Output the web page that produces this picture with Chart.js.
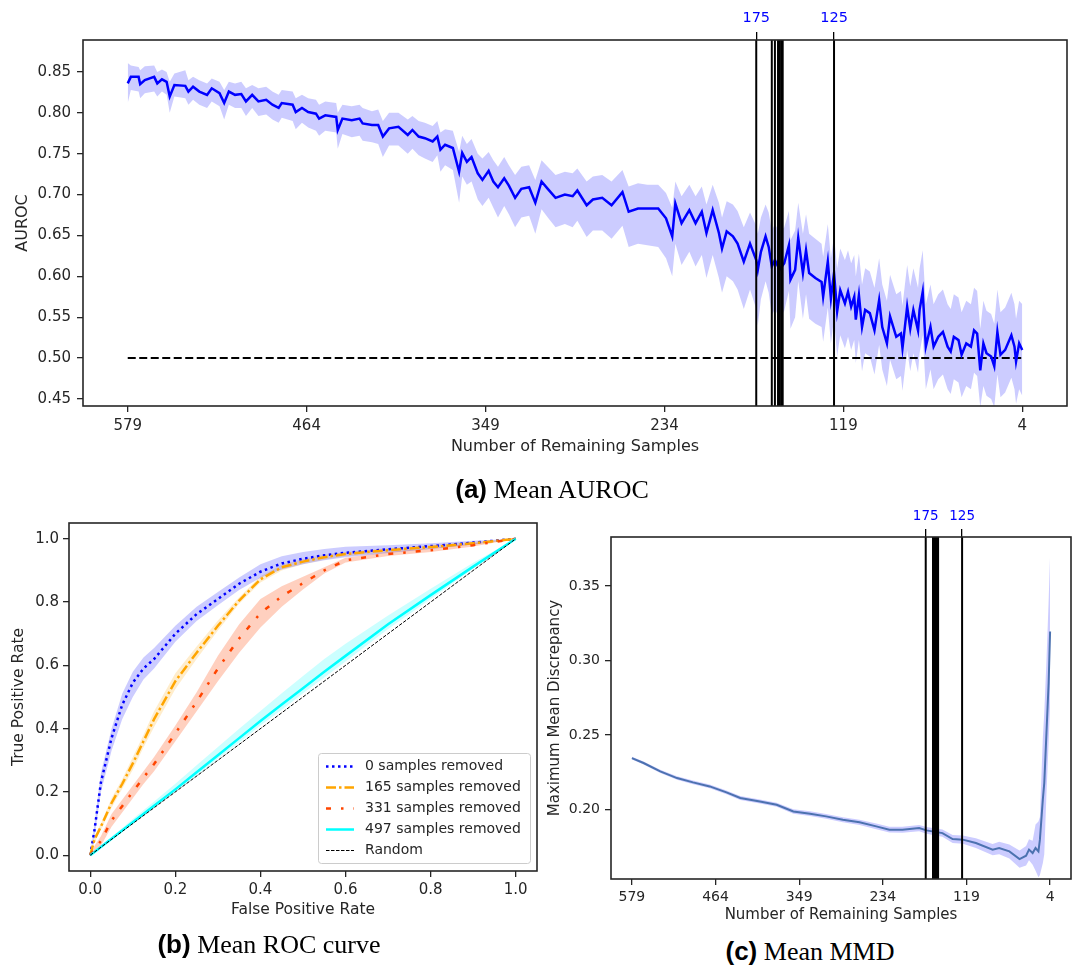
<!DOCTYPE html>
<html>
<head>
<meta charset="utf-8">
<script src="https://cdn.jsdelivr.net/npm/chart.js@4.4.1/dist/chart.umd.min.js"></script>
<style>
  body { margin: 0; background: #fff; width: 1072px; height: 966px; position: relative; overflow: hidden; }
  canvas { position: absolute; }
  .cap { position: absolute; transform: translate(-50%, -50%); white-space: nowrap; font-family: "Liberation Serif", serif; font-size: 26px; color: #000; }
  .cap b { font-family: "Liberation Sans", Arial, sans-serif; font-weight: bold; }
</style>
</head>
<body>
<canvas id="chartAuroc" width="1072" height="462" style="left:0;top:0"></canvas>
<canvas id="chartRoc" width="545" height="430" style="left:0;top:500px"></canvas>
<canvas id="chartMmd" width="532" height="430" style="left:540px;top:495px"></canvas>
<div class="cap" style="left:552px;top:489px"><b>(a)</b> Mean AUROC</div>
<div class="cap" style="left:269px;top:944px"><b>(b)</b> Mean ROC curve</div>
<div class="cap" style="left:810px;top:951px"><b>(c)</b> Mean MMD</div>
<script>
// ---- data (a): mean AUROC vs remaining samples ----
const aurocRemaining = [
  579,577,572,571,568,562,560,557,554,552, 549,542,540,537,533,528,525,520,517,514,
  510,506,503,499,495,490,486,482,480,473, 471,467,463,458,456,452,445,444,441,435,
  430,428,422,418,415,411,405,399,396,392, 388,383,380,378,375,370,366,364,361,358,
  354,351,347,344,341,337,334,330,326,321, 317,313,309,304,298,293,290,284,280,274,
  268,261,257,251,245,238,233,229,227,223, 218,214,210,207,203,199,197,194,190,187,
  183,179,175,174,172,169,167,165,163,160, 157,154,153,150,148,145,143,141,137,133,
  132,129,127,125,123,121,118,116,114,112, 111,109,107,105,102,99,96,94,91,89,
  85,82,81,78,76,74,71,70,68,66, 63,61,58,55,52,50,48,45,43,40,
  37,35,33,31,29,27,24,22,20,18, 15,11,9,8,6,4
];
const aurocMean = [
  0.836,0.844,0.844,0.835,0.840,0.844,0.836,0.841,0.838,0.820, 0.834,0.833,0.826,0.832,0.826,0.822,0.830,0.824,0.812,0.826,
  0.822,0.823,0.814,0.822,0.814,0.816,0.810,0.806,0.812,0.810, 0.801,0.806,0.801,0.799,0.793,0.797,0.795,0.779,0.793,0.791,
  0.793,0.787,0.785,0.785,0.771,0.781,0.783,0.773,0.779,0.771, 0.769,0.765,0.771,0.755,0.761,0.757,0.728,0.751,0.740,0.746,
  0.726,0.718,0.729,0.716,0.709,0.720,0.711,0.696,0.707,0.709, 0.690,0.716,0.707,0.696,0.700,0.698,0.705,0.687,0.694,0.696,
  0.687,0.703,0.679,0.683,0.683,0.683,0.671,0.649,0.689,0.665, 0.681,0.665,0.679,0.653,0.681,0.653,0.634,0.655,0.649,0.640,
  0.618,0.640,0.620,0.608,0.630,0.649,0.636,0.612,0.620,0.608, 0.616,0.638,0.596,0.608,0.647,0.604,0.632,0.604,0.598,0.593,
  0.575,0.618,0.573,0.604,0.557,0.583,0.567,0.581,0.563,0.575, 0.547,0.577,0.538,0.559,0.555,0.534,0.571,0.538,0.518,0.551,
  0.526,0.530,0.512,0.563,0.536,0.559,0.534,0.559,0.581,0.514, 0.538,0.514,0.526,0.532,0.514,0.508,0.526,0.522,0.504,0.518,
  0.514,0.534,0.530,0.485,0.518,0.506,0.502,0.490,0.532,0.504, 0.510,0.528,0.514,0.496,0.518,0.510
];
const aurocLow = [
  0.812,0.828,0.826,0.818,0.824,0.826,0.820,0.826,0.822,0.800, 0.820,0.818,0.810,0.816,0.810,0.806,0.814,0.808,0.792,0.810,
  0.806,0.806,0.796,0.806,0.796,0.798,0.792,0.788,0.794,0.790, 0.780,0.788,0.782,0.778,0.772,0.778,0.776,0.756,0.774,0.770,
  0.772,0.766,0.764,0.762,0.746,0.760,0.760,0.750,0.756,0.748, 0.744,0.740,0.748,0.728,0.736,0.730,0.690,0.722,0.712,0.716,
  0.694,0.686,0.696,0.684,0.672,0.686,0.676,0.660,0.672,0.674, 0.652,0.682,0.672,0.660,0.664,0.660,0.668,0.648,0.656,0.656,
  0.646,0.662,0.636,0.640,0.638,0.636,0.622,0.600,0.640,0.614, 0.630,0.612,0.626,0.598,0.626,0.598,0.580,0.600,0.594,0.584,
  0.560,0.584,0.560,0.540,0.572,0.594,0.580,0.552,0.560,0.548, 0.558,0.582,0.536,0.550,0.594,0.548,0.578,0.548,0.542,0.538,
  0.520,0.562,0.518,0.548,0.502,0.528,0.512,0.526,0.510,0.522, 0.494,0.522,0.484,0.506,0.502,0.480,0.516,0.486,0.466,0.498,
  0.474,0.478,0.460,0.510,0.484,0.506,0.482,0.506,0.528,0.462, 0.486,0.462,0.474,0.480,0.462,0.456,0.474,0.470,0.452,0.466,
  0.462,0.482,0.478,0.440,0.466,0.454,0.450,0.440,0.480,0.452, 0.458,0.476,0.462,0.444,0.462,0.454
];
const aurocHigh = [
  0.861,0.858,0.856,0.852,0.857,0.858,0.850,0.853,0.850,0.838, 0.848,0.852,0.840,0.844,0.840,0.836,0.842,0.838,0.828,0.838,
  0.836,0.838,0.830,0.834,0.830,0.832,0.826,0.822,0.828,0.826, 0.818,0.822,0.818,0.816,0.810,0.814,0.812,0.800,0.810,0.808,
  0.810,0.806,0.802,0.804,0.790,0.800,0.800,0.792,0.796,0.790, 0.788,0.784,0.790,0.776,0.780,0.778,0.752,0.772,0.762,0.768,
  0.750,0.744,0.752,0.742,0.734,0.746,0.736,0.724,0.734,0.736, 0.718,0.742,0.734,0.724,0.728,0.726,0.732,0.716,0.722,0.724,
  0.716,0.730,0.710,0.714,0.712,0.712,0.702,0.684,0.716,0.698, 0.712,0.698,0.710,0.688,0.712,0.690,0.672,0.692,0.688,0.680,
  0.660,0.678,0.662,0.652,0.672,0.688,0.678,0.656,0.664,0.654, 0.660,0.680,0.644,0.656,0.690,0.652,0.676,0.652,0.646,0.640,
  0.624,0.664,0.622,0.650,0.610,0.634,0.620,0.632,0.616,0.626, 0.600,0.628,0.590,0.610,0.606,0.586,0.622,0.590,0.570,0.602,
  0.578,0.582,0.564,0.614,0.588,0.610,0.586,0.610,0.632,0.566, 0.590,0.566,0.578,0.584,0.566,0.560,0.578,0.574,0.556,0.570,
  0.566,0.586,0.582,0.536,0.570,0.558,0.554,0.542,0.584,0.556, 0.562,0.580,0.566,0.548,0.570,0.566
];
const randomAuroc = 0.5;
const sampleTicks = [579, 464, 349, 234, 119, 4];
const aurocTicks = [0.45, 0.50, 0.55, 0.60, 0.65, 0.70, 0.75, 0.80, 0.85];
// removal steps marked by vertical lines, two of them labelled on top
const markedRemaining = [175, 165, 163, 161, 160, 159, 158, 125];
const topLabels = [175, 125];

// ---- data (b): mean ROC curves ----
const fprGrid = [0, 0.01, 0.025, 0.05, 0.075, 0.1, 0.125, 0.15, 0.2, 0.25, 0.3, 0.35, 0.4, 0.45, 0.5, 0.55, 0.6, 0.7, 0.8, 0.9, 1];
const rocNames = ['0 samples removed', '165 samples removed', '331 samples removed', '497 samples removed'];
const tpr0 =     [0, 0.08, 0.23, 0.37, 0.475, 0.545, 0.59, 0.62, 0.70, 0.762, 0.81, 0.858, 0.896, 0.922, 0.937, 0.948, 0.956, 0.967, 0.977, 0.988, 1];
const tpr0Low =  [0, 0.06, 0.20, 0.33, 0.43, 0.50, 0.555, 0.59, 0.675, 0.74, 0.79, 0.838, 0.877, 0.903, 0.92, 0.932, 0.942, 0.955, 0.968, 0.982, 1];
const tpr0High = [0, 0.10, 0.26, 0.40, 0.51, 0.58, 0.625, 0.655, 0.725, 0.785, 0.832, 0.878, 0.92, 0.945, 0.958, 0.968, 0.975, 0.98, 0.986, 0.994, 1];
const tpr165 =     [0, 0.05, 0.09, 0.165, 0.225, 0.29, 0.36, 0.43, 0.55, 0.64, 0.725, 0.805, 0.872, 0.91, 0.928, 0.942, 0.952, 0.964, 0.974, 0.986, 1];
const tpr165Low =  [0, 0.04, 0.08, 0.15, 0.21, 0.27, 0.34, 0.405, 0.525, 0.62, 0.71, 0.795, 0.862, 0.9, 0.92, 0.934, 0.945, 0.957, 0.968, 0.981, 1];
const tpr165High = [0, 0.06, 0.10, 0.18, 0.24, 0.31, 0.38, 0.455, 0.575, 0.66, 0.742, 0.815, 0.882, 0.918, 0.936, 0.95, 0.958, 0.97, 0.98, 0.99, 1];
const tpr331 =     [0, 0.02, 0.045, 0.11, 0.155, 0.2, 0.245, 0.288, 0.385, 0.485, 0.59, 0.685, 0.765, 0.818, 0.86, 0.9, 0.932, 0.952, 0.964, 0.98, 1];
const tpr331Low =  [0, 0.01, 0.03, 0.09, 0.135, 0.18, 0.225, 0.265, 0.36, 0.455, 0.55, 0.64, 0.72, 0.785, 0.84, 0.89, 0.925, 0.946, 0.958, 0.976, 1];
const tpr331High = [0, 0.03, 0.06, 0.13, 0.175, 0.22, 0.265, 0.31, 0.41, 0.515, 0.63, 0.73, 0.81, 0.85, 0.88, 0.91, 0.94, 0.958, 0.97, 0.985, 1];
const tpr497 =     [0, 0.01, 0.026, 0.052, 0.078, 0.104, 0.13, 0.156, 0.208, 0.262, 0.316, 0.37, 0.424, 0.476, 0.528, 0.58, 0.63, 0.73, 0.822, 0.912, 1];
const tpr497Low =  [0, 0.01, 0.025, 0.05, 0.075, 0.1, 0.125, 0.15, 0.2, 0.252, 0.305, 0.356, 0.41, 0.46, 0.512, 0.562, 0.612, 0.715, 0.81, 0.905, 1];
const tpr497High = [0, 0.012, 0.03, 0.058, 0.086, 0.114, 0.142, 0.17, 0.226, 0.284, 0.342, 0.4, 0.456, 0.512, 0.566, 0.62, 0.668, 0.758, 0.842, 0.924, 1];
const rateTicks = [0, 0.2, 0.4, 0.6, 0.8, 1.0];

// ---- data (c): mean MMD ----
const mmdRemaining = [579,563,540,517,495,472,449,430,403,380,357,334,312,289,266,243,225,207,184,174,152,138,124,106,83,74,60,46,37,33,28,24,20,18,14,12,9,6,4];
const mmdMean = [0.2345,0.2312,0.2256,0.2211,0.2182,0.2155,0.2115,0.2077,0.2054,0.2032,0.1987,0.1972,0.1954,0.1932,0.1914,0.1887,0.1865,0.1865,0.1876,0.1860,
  0.1842,0.1802,0.1798,0.1775,0.1731,0.1742,0.1719,0.1668,0.1690,0.1731,0.1708,0.1742,0.1719,0.1798,0.2066,0.2178,0.2513,0.2848,0.3194];
const mmdLow = [0.2335,0.2302,0.2245,0.2199,0.2170,0.2142,0.2102,0.2064,0.2040,0.2018,0.1972,0.1956,0.1938,0.1915,0.1896,0.1868,0.1846,0.1845,0.1855,0.1838,
  0.1818,0.1775,0.1770,0.1742,0.1693,0.1700,0.1672,0.1610,0.1625,0.1660,0.1630,0.1590,0.1545,0.1560,0.1640,0.1700,0.2100,0.2450,0.2700];
const mmdHigh = [0.2355,0.2322,0.2267,0.2223,0.2194,0.2168,0.2128,0.2090,0.2068,0.2046,0.2002,0.1988,0.1970,0.1949,0.1932,0.1906,0.1884,0.1885,0.1897,0.1882,
  0.1866,0.1829,0.1826,0.1808,0.1769,0.1784,0.1766,0.1726,0.1755,0.1800,0.1790,0.1900,0.1920,0.1950,0.2480,0.2650,0.3000,0.3400,0.3710];
const mmdTicks = [0.20, 0.25, 0.30, 0.35];

// ---- helpers ----
Chart.defaults.font.family = '"DejaVu Sans", sans-serif';
Chart.defaults.color = '#262626';
Chart.defaults.animation = false;

const ink = '#262626';
const pts = (xs, ys) => xs.map((x, i) => ({ x, y: ys[i] }));

// frame around the plot area (matplotlib style box)
const frame = {
  id: 'frame',
  afterDatasetsDraw(chart) {
    const a = chart.chartArea, ctx = chart.ctx;
    ctx.save();
    ctx.strokeStyle = ink;
    ctx.lineWidth = 1.6;
    ctx.strokeRect(a.left, a.top, a.right - a.left, a.bottom - a.top);
    ctx.restore();
  }
};

function tickGrid(len) {
  return { drawOnChartArea: false, drawTicks: true, tickLength: len, color: ink, lineWidth: 1.3 };
}

// vertical marker lines, spanning the whole y range
function markerSets(yMin, yMax) {
  return markedRemaining.map(v => ({
    data: [{ x: v, y: yMin }, { x: v, y: yMax }],
    borderColor: '#000', borderWidth: 2, order: -1
  }));
}

function sampleAxis(h, tickSize, pad, titleSize, titlePad) {
  return {
    type: 'linear', reverse: true, min: -24.75, max: 607.75,
    afterBuildTicks: s => { s.ticks = sampleTicks.map(v => ({ value: v })); },
    afterFit: s => { s.height = h; },
    ticks: { callback: v => String(v), font: { size: tickSize }, padding: pad, maxRotation: 0, autoSkip: false },
    grid: tickGrid(6),
    border: { display: false },
    title: { display: true, text: 'Number of Remaining Samples', font: { size: titleSize }, padding: { top: 0, bottom: titlePad } }
  };
}

function topAxis(h, size, pad) {
  return {
    type: 'linear', position: 'top', reverse: true, min: -24.75, max: 607.75,
    afterBuildTicks: s => { s.ticks = topLabels.map(v => ({ value: v })); },
    afterFit: s => { s.height = h; },
    ticks: { callback: v => String(v), color: '#0000ff', font: { size: size }, padding: pad, maxRotation: 0, autoSkip: false },
    grid: { drawOnChartArea: false, drawTicks: true, tickLength: 8, color: '#000', lineWidth: 1.3 },
    border: { display: false }
  };
}

// ---- (a) Mean AUROC ----
const aMin = 0.4414, aMax = 0.8891;
new Chart(document.getElementById('chartAuroc'), {
  type: 'line',
  data: {
    datasets: [
      { data: pts(aurocRemaining, aurocLow), borderColor: 'transparent', borderWidth: 0, order: 2 },
      { data: pts(aurocRemaining, aurocHigh), borderColor: 'transparent', borderWidth: 0, fill: 0,
        backgroundColor: 'rgba(0,0,255,0.2)', order: 2 },
      { data: pts(aurocRemaining, aurocMean), borderColor: '#0000ff', borderWidth: 2.5, order: 0 },
      { data: [{ x: 579, y: randomAuroc }, { x: 4, y: randomAuroc }], borderColor: '#000', borderWidth: 2,
        borderDash: [8, 3.5], order: 1 },
      ...markerSets(aMin, aMax)
    ]
  },
  options: {
    responsive: false,
    elements: { point: { radius: 0 }, line: { tension: 0 } },
    layout: { padding: { left: 0, right: 5, top: 0, bottom: 0 }, autoPadding: false },
    plugins: { legend: { display: false }, tooltip: { enabled: false } },
    scales: {
      x: sampleAxis(56, 15, 5, 16, 6),
      x2: topAxis(40, 14.5, 5),
      y: {
        min: aMin, max: aMax,
        afterBuildTicks: s => { s.ticks = aurocTicks.map(v => ({ value: v })); },
        afterFit: s => { s.width = 83; },
        ticks: { callback: v => v.toFixed(2), font: { size: 15 }, padding: 6, autoSkip: false },
        grid: tickGrid(6),
        border: { display: false },
        title: { display: true, text: 'AUROC', font: { size: 16 }, padding: { top: 13, bottom: 0 } }
      }
    }
  },
  plugins: [frame]
});

// ---- (b) Mean ROC curve ----
const rocStyles = [
  { color: '#0000ff', band: 'rgba(0,0,255,0.2)', width: 2.5, dash: [2.5, 3.5] },
  { color: '#ffa500', band: 'rgba(255,165,0,0.2)', width: 2.5, dash: [10, 3, 2.5, 3] },
  { color: '#ff4500', band: 'rgba(255,69,0,0.25)', width: 2.5, dash: [5, 10, 2.5, 10] },
  { color: '#00ffff', band: 'rgba(0,255,255,0.2)', width: 2.5, dash: [] }
];
const rocMeans = [tpr0, tpr165, tpr331, tpr497];
const rocLows = [tpr0Low, tpr165Low, tpr331Low, tpr497Low];
const rocHighs = [tpr0High, tpr165High, tpr331High, tpr497High];

const rocSets = [];
const legendIdx = [];
rocMeans.forEach((m, i) => {
  const st = rocStyles[i];
  const lowIdx = rocSets.length;
  rocSets.push({ data: pts(fprGrid, rocLows[i]), borderColor: 'transparent', borderWidth: 0, order: 3 });
  rocSets.push({ data: pts(fprGrid, rocHighs[i]), borderColor: 'transparent', borderWidth: 0,
    fill: lowIdx, backgroundColor: st.band, order: 3 });
});
rocMeans.forEach((m, i) => {
  const st = rocStyles[i];
  legendIdx.push(rocSets.length);
  rocSets.push({ label: rocNames[i], data: pts(fprGrid, m), borderColor: st.color, borderWidth: st.width,
    borderDash: st.dash, order: 1 - i * 0.1 });
});
legendIdx.push(rocSets.length);
rocSets.push({ label: 'Random', data: [{ x: 0, y: 0 }, { x: 1, y: 1 }], borderColor: '#000', borderWidth: 1,
  borderDash: [3.5, 1.5], order: 0 });

const rocLegend = {
  id: 'rocLegend',
  afterDraw(chart) {
    const { ctx, chartArea } = chart;
    const w = 212, h = 110;
    const x0 = chartArea.right - 7 - w, y0 = chartArea.bottom - 8 - h;
    ctx.save();
    ctx.fillStyle = 'rgba(255,255,255,0.8)';
    ctx.strokeStyle = '#cccccc';
    ctx.lineWidth = 1;
    ctx.beginPath();
    ctx.roundRect(x0 + 0.5, y0 + 0.5, w, h, 3);
    ctx.fill();
    ctx.stroke();
    legendIdx.forEach((di, i) => {
      const ds = chart.data.datasets[di];
      const y = y0 + 13.5 + i * 21;
      ctx.strokeStyle = ds.borderColor;
      ctx.lineWidth = ds.borderWidth;
      ctx.setLineDash(ds.borderDash || []);
      ctx.beginPath();
      ctx.moveTo(x0 + 8, y);
      ctx.lineTo(x0 + 36, y);
      ctx.stroke();
      ctx.setLineDash([]);
      ctx.fillStyle = ink;
      ctx.font = '14px "DejaVu Sans"';
      ctx.textBaseline = 'middle';
      ctx.fillText(ds.label, x0 + 47, y);
    });
    ctx.restore();
  }
};

new Chart(document.getElementById('chartRoc'), {
  type: 'line',
  data: { datasets: rocSets },
  options: {
    responsive: false,
    elements: { point: { radius: 0 }, line: { tension: 0 } },
    layout: { padding: { left: 0, right: 8, top: 23, bottom: 0 }, autoPadding: false },
    plugins: { legend: { display: false }, tooltip: { enabled: false } },
    scales: {
      x: {
        type: 'linear', min: -0.05, max: 1.05,
        afterBuildTicks: s => { s.ticks = rateTicks.map(v => ({ value: v })); },
        afterFit: s => { s.height = 59; },
        ticks: { callback: v => v.toFixed(1), font: { size: 15 }, padding: 4, maxRotation: 0, autoSkip: false },
        grid: tickGrid(6),
        border: { display: false },
        title: { display: true, text: 'False Positive Rate', font: { size: 15.5 }, padding: { top: 0, bottom: 11 } }
      },
      y: {
        min: -0.05, max: 1.05,
        afterBuildTicks: s => { s.ticks = rateTicks.map(v => ({ value: v })); },
        afterFit: s => { s.width = 69; },
        ticks: { callback: v => v.toFixed(1), font: { size: 15 }, padding: 4, autoSkip: false },
        grid: tickGrid(6),
        border: { display: false },
        title: { display: true, text: 'True Positive Rate', font: { size: 15.5 }, padding: { top: 10, bottom: 0 } }
      }
    }
  },
  plugins: [frame, rocLegend]
});

// ---- (c) Mean MMD ----
const cMin = 0.1534, cMax = 0.3828;
new Chart(document.getElementById('chartMmd'), {
  type: 'line',
  data: {
    datasets: [
      { data: pts(mmdRemaining, mmdLow), borderColor: 'transparent', borderWidth: 0, order: 2 },
      { data: pts(mmdRemaining, mmdHigh), borderColor: 'transparent', borderWidth: 0, fill: 0,
        backgroundColor: 'rgba(0,0,255,0.2)', order: 2 },
      { data: pts(mmdRemaining, mmdMean), borderColor: '#4c72b0', borderWidth: 2, order: 0 },
      ...markerSets(cMin, cMax)
    ]
  },
  options: {
    responsive: false,
    elements: { point: { radius: 0 }, line: { tension: 0 } },
    layout: { padding: { left: 0, right: 1, top: 0, bottom: 0 }, autoPadding: false },
    plugins: { legend: { display: false }, tooltip: { enabled: false } },
    scales: {
      x: sampleAxis(46, 14, 4, 15, 1),
      x2: topAxis(42, 13.5, 4),
      y: {
        min: cMin, max: cMax,
        afterBuildTicks: s => { s.ticks = mmdTicks.map(v => ({ value: v })); },
        afterFit: s => { s.width = 71; },
        ticks: { callback: v => v.toFixed(2), font: { size: 14 }, padding: 5, autoSkip: false },
        grid: tickGrid(6),
        border: { display: false },
        title: { display: true, text: 'Maximum Mean Discrepancy', font: { size: 15 }, padding: { top: 6, bottom: 0 } }
      }
    }
  },
  plugins: [frame]
});
</script>
</body>
</html>
